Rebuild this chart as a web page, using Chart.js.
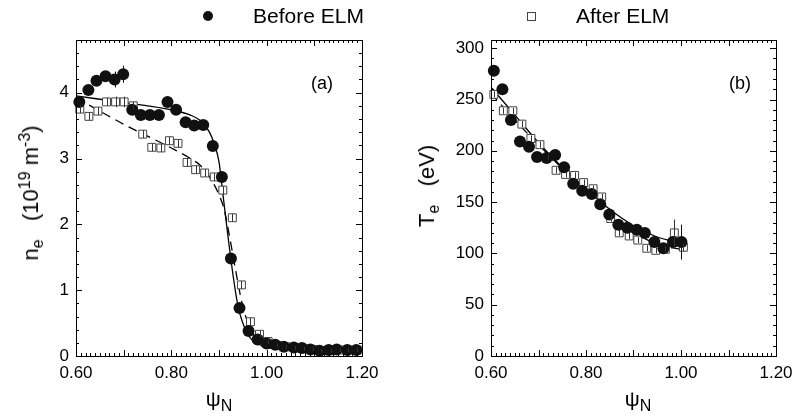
<!DOCTYPE html>
<html>
<head>
<meta charset="utf-8">
<script src="https://cdn.jsdelivr.net/npm/chart.js@4.4.1/dist/chart.umd.min.js"></script>
<style>
	body { margin:0; width:795px; height:416px; position:relative; overflow:hidden; background:#fff;
	       font-family:"Liberation Sans", Arial, Helvetica, sans-serif; color:#000; }
	canvas { position:absolute; top:0; }
	#graficaNe { left:0; }
	#graficaTe { left:400px; }
	.txt { position:absolute; white-space:nowrap; line-height:1; }
	.ytitulo { transform: translate(-50%,-50%) rotate(-90deg); font-size:22px; }
	.xtitulo { transform: translate(-50%,0); font-size:21px; }
	sub, sup { font-size:16px; line-height:0; }
</style>
</head>
<body>
<canvas id="graficaNe" width="400" height="416"></canvas>
<canvas id="graficaTe" width="400" height="416"></canvas>

<!-- leyenda -->
<div class="txt" style="left:203px;top:11px;width:10px;height:10px;border-radius:50%;background:#111"></div>
<div class="txt" style="left:253px;top:5px;font-size:21px">Before ELM</div>
<div class="txt" style="left:527px;top:12px;width:7px;height:7px;border:1px solid #444"></div>
<div class="txt" style="left:576px;top:5px;font-size:21px">After ELM</div>

<!-- titulos de ejes -->
<div class="txt ytitulo" style="left:31px;top:193px">n<sub>e</sub>&nbsp;&nbsp;&nbsp;(10<sup>19</sup> m<sup>-3</sup>)</div>
<div class="txt ytitulo" style="left:427px;top:186px">T<sub>e</sub>&nbsp;&nbsp;&nbsp;(eV)</div>
<div class="txt xtitulo" style="left:219px;top:388px">&psi;<sub>N</sub></div>
<div class="txt xtitulo" style="left:638px;top:388px">&psi;<sub>N</sub></div>
<div class="txt" style="left:311px;top:74px;font-size:18px">(a)</div>
<div class="txt" style="left:729px;top:74px;font-size:18px">(b)</div>

<script>
// etiquetas de los ejes
var etiquetasPsi = [0.60, 0.80, 1.00, 1.20];
var etiquetasNe = [0, 1, 2, 3, 4];
var etiquetasTe = [0, 50, 100, 150, 200, 250, 300];

// panel (a): densidad
var psiAntesNe = [0.607,0.626,0.643,0.662,0.681,0.699,0.718,0.736,0.755,0.774,0.792,0.810,0.830,0.848,0.867,0.887,0.906,0.925,0.943,0.962,0.981,1.000,1.018,1.036,1.057,1.074,1.092,1.111,1.130,1.147,1.169,1.188];
var neAntes    = [3.86,4.04,4.18,4.25,4.20,4.28,3.74,3.66,3.66,3.66,3.86,3.74,3.55,3.50,3.51,3.19,2.72,1.48,0.73,0.38,0.25,0.19,0.17,0.14,0.13,0.12,0.10,0.08,0.09,0.10,0.09,0.09];
var errNeAntes = [0,0,0,0,0.12,0.13,0,0,0,0,0,0,0,0,0,0,0,0,0,0,0,0,0,0,0,0,0,0,0,0,0,0];

var psiDespuesNe = [0.608,0.627,0.646,0.664,0.683,0.701,0.720,0.740,0.759,0.778,0.796,0.814,0.833,0.851,0.870,0.890,0.908,0.928,0.947,0.966,0.985,1.003,1.022,1.041,1.059,1.078,1.097,1.115,1.134,1.153,1.171,1.190];
var neDespues    = [3.75,3.64,3.72,3.86,3.86,3.86,3.80,3.37,3.17,3.16,3.27,3.23,2.94,2.83,2.78,2.72,2.52,2.10,1.08,0.52,0.33,0.22,0.16,0.14,0.12,0.11,0.10,0.08,0.08,0.09,0.09,0.09];
var errNeDespues = [0.06,0.06,0.06,0.06,0.08,0.08,0.06,0.06,0.06,0.06,0.06,0.06,0.06,0.06,0.06,0.06,0.06,0.06,0.06,0.06,0.05,0.04,0.03,0.03,0.03,0.03,0.03,0.03,0.03,0.03,0.03,0.03];

var psiAjusteNe     = [0.60,0.65,0.70,0.75,0.80,0.84,0.86,0.88,0.89,0.90,0.91,0.92,0.93,0.94,0.95,0.96,0.97,0.98,1.00,1.05,1.10,1.20];
var neAjusteAntes   = [3.95,3.90,3.85,3.80,3.74,3.66,3.58,3.40,3.22,2.95,2.35,1.75,1.20,0.75,0.50,0.33,0.24,0.19,0.13,0.09,0.07,0.07];
var neAjusteDespues = [3.92,3.72,3.52,3.34,3.16,3.00,2.90,2.72,2.60,2.45,2.25,1.90,1.50,1.10,0.75,0.52,0.36,0.26,0.17,0.10,0.08,0.08];

// panel (b): temperatura
var psiAntesTe = [0.606,0.624,0.642,0.661,0.680,0.697,0.717,0.735,0.754,0.773,0.792,0.812,0.830,0.849,0.868,0.887,0.907,0.924,0.944,0.963,0.983,1.001];
var teAntes    = [278,260,230,209,204,194,193,196,184,168,161,158,148,138,128,125,123,120,111,105,111,111];
var errTeAntes = [0,0,0,0,0,0,0,0,0,0,0,0,0,0,0,0,0,0,0,0,0,17];

var psiDespuesTe = [0.606,0.626,0.646,0.665,0.684,0.703,0.721,0.737,0.757,0.776,0.795,0.815,0.833,0.852,0.870,0.891,0.909,0.928,0.947,0.967,0.986,1.005];
var teDespues    = [255,239,239,226,212,206,194,181,177,176,169,163,155,134,120,117,113,105,103,104,120,106];
var errTeDespues = [3,3,3,3,3,3,3,3,3,3,3,3,3,3,3,3,3,3,3,3,13,4];

var psiAjusteTe     = [0.60,0.65,0.70,0.75,0.80,0.85,0.90,0.95,1.00];
var teAjusteAntes   = [262,235,208,184,163,143,127,116,110];
var teAjusteDespues = [256,230,206,183,161,140,121,109,104];

function pares(xs, ys) {
	return xs.map(function(x, i) { return {x: x, y: ys[i]}; });
}

// marco con marcas hacia adentro en los cuatro lados
var marcoPlugin = {
	id: 'marco',
	afterDatasetsDraw: function(chart) {
		var ctx = chart.ctx, a = chart.chartArea;
		var sx = chart.scales.x, sy = chart.scales.y;
		var m = chart.options.plugins.marco;
		ctx.save();
		ctx.strokeStyle = '#000';
		ctx.lineWidth = 1;
		ctx.beginPath();
		var n = Math.round((sx.max - sx.min) / m.xMenor);
		for (var i = 0; i <= n; i++) {
			var px = Math.round(sx.getPixelForValue(sx.min + i * m.xMenor)) + 0.5;
			var lx = (i % m.xCada === 0) ? 6 : 3;
			ctx.moveTo(px, a.bottom); ctx.lineTo(px, a.bottom - lx);
			ctx.moveTo(px, a.top); ctx.lineTo(px, a.top + lx);
		}
		var k = Math.floor((sy.max - sy.min) / m.yMenor + 1e-6);
		for (var j = 0; j <= k; j++) {
			var py = Math.round(sy.getPixelForValue(sy.min + j * m.yMenor)) + 0.5;
			var ly = (j % m.yCada === 0) ? 6 : 3;
			ctx.moveTo(a.left, py); ctx.lineTo(a.left + ly, py);
			ctx.moveTo(a.right, py); ctx.lineTo(a.right - ly, py);
		}
		ctx.stroke();
		ctx.strokeRect(Math.round(a.left) + 0.5, Math.round(a.top) + 0.5,
			Math.round(a.right - a.left), Math.round(a.bottom - a.top));
		ctx.restore();
	}
};

// barras de error verticales
var erroresPlugin = {
	id: 'errores',
	afterDatasetsDraw: function(chart) {
		var ctx = chart.ctx, sy = chart.scales.y;
		ctx.save();
		chart.data.datasets.forEach(function(ds, d) {
			if (!ds.errores) return;
			var meta = chart.getDatasetMeta(d);
			ctx.strokeStyle = ds.colorError;
			ctx.lineWidth = 1;
			ctx.beginPath();
			meta.data.forEach(function(p, i) {
				var e = ds.errores[i];
				if (!e) return;
				var v = ds.data[i].y;
				var x = Math.round(p.x) + 0.5;
				ctx.moveTo(x, sy.getPixelForValue(v - e));
				ctx.lineTo(x, sy.getPixelForValue(v + e));
			});
			ctx.stroke();
		});
		ctx.restore();
	}
};

function crearPanel(idCanvas, p) {
	var ctx = document.getElementById(idCanvas).getContext('2d');
	var fuente = { family: 'Liberation Sans', size: 17 };
	return new Chart(ctx, {
		type: 'scatter',
		data: {
			datasets: [{
				label: 'Before ELM',
				data: pares(p.psiAntes, p.antes),
				pointStyle: 'circle',
				pointRadius: 6,
				pointHoverRadius: 6,
				backgroundColor: '#111',
				borderColor: '#111',
				borderWidth: 0,
				clip: false,
				errores: p.errAntes,
				colorError: '#111'
			}, {
				label: 'After ELM',
				data: pares(p.psiDespues, p.despues),
				pointStyle: 'rect',
				pointRadius: 5.6,
				pointHoverRadius: 5.6,
				backgroundColor: '#fff',
				borderColor: '#444',
				borderWidth: 1,
				clip: false,
				errores: p.errDespues,
				colorError: '#333'
			}, {
				label: 'ajuste antes',
				data: pares(p.psiAjuste, p.ajusteAntes),
				showLine: true,
				pointRadius: 0,
				borderColor: '#000',
				borderWidth: 1.3,
				cubicInterpolationMode: 'monotone'
			}, {
				label: 'ajuste despues',
				data: pares(p.psiAjuste, p.ajusteDespues),
				showLine: true,
				pointRadius: 0,
				borderColor: '#000',
				borderWidth: 1.3,
				borderDash: [9, 6],
				cubicInterpolationMode: 'monotone'
			}]
		},
		options: {
			responsive: false,
			animation: false,
			devicePixelRatio: 1,
			layout: { padding: { left: 0, top: 40, right: p.derecha, bottom: 0 } },
			plugins: {
				legend: { display: false },
				tooltip: { enabled: false },
				marco: { xMenor: 0.01, xCada: 10, yMenor: p.yMenor, yCada: 5 }
			},
			scales: {
				x: {
					type: 'linear',
					min: 0.6,
					max: 1.2,
					grid: { display: false, drawTicks: false },
					border: { display: false },
					afterBuildTicks: function(s) {
						s.ticks = etiquetasPsi.map(function(v) { return {value: v}; });
					},
					ticks: {
						padding: 7,
						color: '#000',
						font: fuente,
						callback: function(v) { return v.toFixed(2); }
					},
					afterFit: function(s) { s.height = 60; }
				},
				y: {
					type: 'linear',
					min: 0,
					max: p.yMax,
					grid: { display: false, drawTicks: false },
					border: { display: false },
					afterBuildTicks: function(s) {
						s.ticks = p.etiquetas.map(function(v) { return {value: v}; });
					},
					ticks: {
						padding: 7,
						color: '#000',
						font: fuente,
						callback: function(v) { return String(v); }
					},
					afterFit: function(s) { s.width = p.ancho; }
				}
			}
		},
		plugins: [erroresPlugin, marcoPlugin]
	});
}

function iniciar() {
	crearPanel('graficaNe', {
		psiAntes: psiAntesNe, antes: neAntes, errAntes: errNeAntes,
		psiDespues: psiDespuesNe, despues: neDespues, errDespues: errNeDespues,
		psiAjuste: psiAjusteNe, ajusteAntes: neAjusteAntes, ajusteDespues: neAjusteDespues,
		etiquetas: etiquetasNe, yMax: 4.8, yMenor: 0.2, ancho: 76, derecha: 38
	});
	crearPanel('graficaTe', {
		psiAntes: psiAntesTe, antes: teAntes, errAntes: errTeAntes,
		psiDespues: psiDespuesTe, despues: teDespues, errDespues: errTeDespues,
		psiAjuste: psiAjusteTe, ajusteAntes: teAjusteAntes, ajusteDespues: teAjusteDespues,
		etiquetas: etiquetasTe, yMax: 308, yMenor: 10, ancho: 91, derecha: 24
	});
}

window.addEventListener('load', iniciar);
</script>
</body>
</html>
